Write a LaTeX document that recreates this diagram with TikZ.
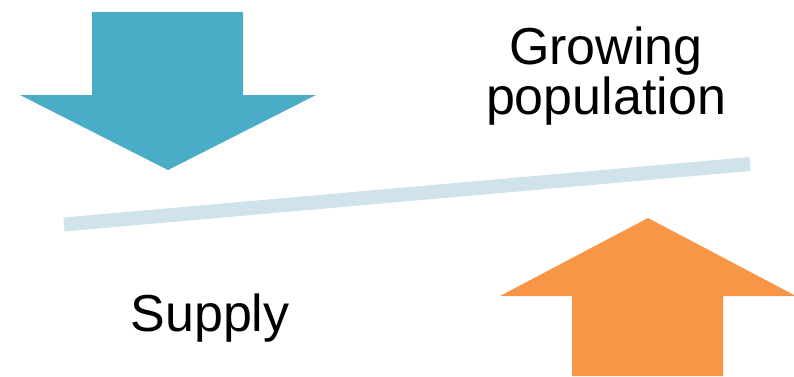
\documentclass[tikz,border=0pt]{standalone}
\usepackage{fontspec}
\setmainfont{Liberation Sans}
\definecolor{bluearrow}{HTML}{4BACC6}
\definecolor{orangearrow}{HTML}{F79646}
\definecolor{beam}{HTML}{D0E3EA}
\begin{document}
\begin{tikzpicture}[x=1pt,y=-1pt,
  lbl/.style={anchor=base,inner sep=0pt,font=\fontsize{52}{60}\selectfont}]
\useasboundingbox (0,0) rectangle (794,376);
% blue down arrow
\fill[bluearrow] (92,12) -- (243,12) -- (243,95) -- (316,95) -- (168,170) -- (20,95) -- (92,95) -- cycle;
% orange up arrow
\fill[orangearrow] (572,376) -- (723,376) -- (723,296) -- (796,296) -- (648,218) -- (500,296) -- (572,296) -- cycle;
% beam
\coordinate (bl) at (64,224.5);
\coordinate (br) at (750,164);
\draw[beam,line width=14pt] (bl) -- (br);
% labels
\node[lbl] (g) at (606,64) {Growing};
\node[lbl] (p) at (606,114) {population};
\node[lbl] (s) at (210,331) {Supply};
\end{tikzpicture}
\end{document}
